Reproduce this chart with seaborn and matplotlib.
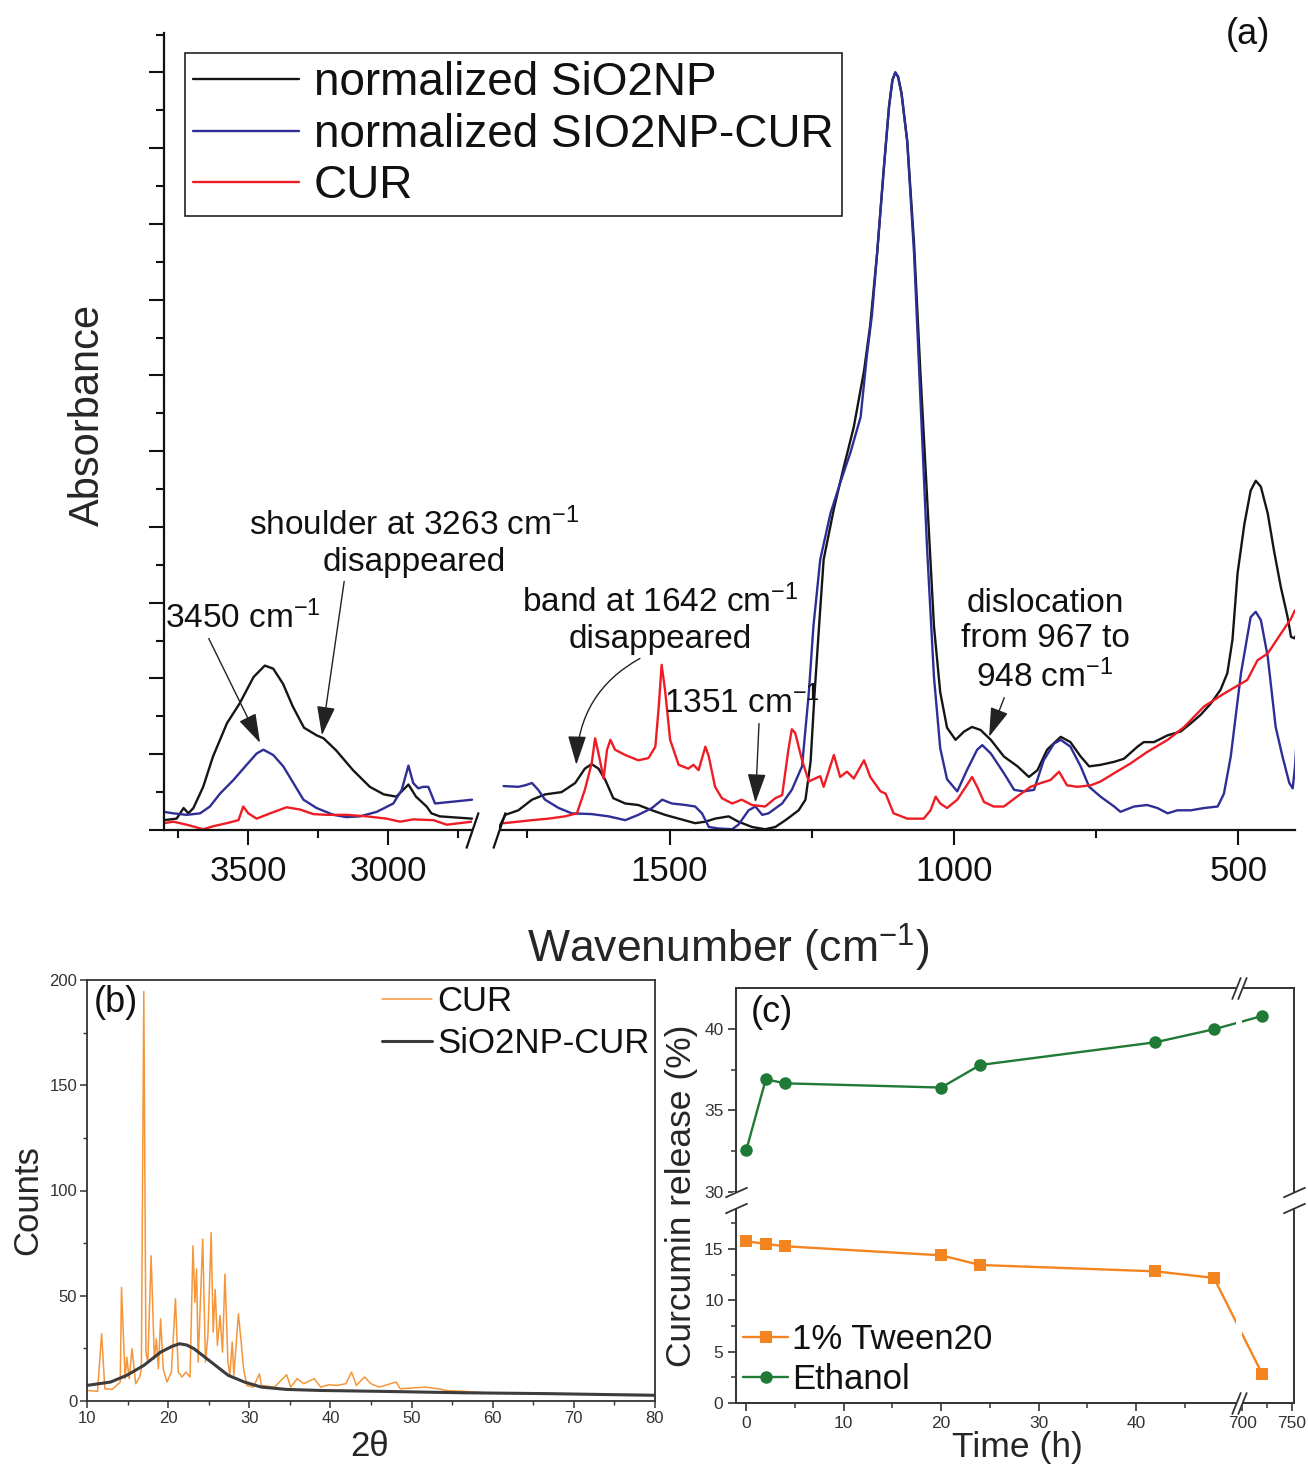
import numpy as np
import pandas as pd
import matplotlib
matplotlib.use("Agg")
import matplotlib.pyplot as plt
import seaborn as sns
from matplotlib.path import Path
from matplotlib.patches import ArrowStyle
from matplotlib.ticker import FixedLocator, NullFormatter, MultipleLocator

# ------------------------------------------------------------------ data (a) FTIR
sio2_wn_hi = [3800, 3755, 3730, 3713, 3695, 3660, 3625, 3575, 3530, 3480, 3440, 3410, 3375, 3340,
              3300, 3255, 3230, 3185, 3125, 3065, 3015, 2970, 2927, 2900, 2862, 2845, 2815, 2700]
sio2_abs_hi = [0.013, 0.015, 0.029, 0.022, 0.029, 0.057, 0.097, 0.141, 0.167, 0.202, 0.217, 0.213,
               0.193, 0.163, 0.135, 0.125, 0.121, 0.105, 0.079, 0.057, 0.047, 0.044, 0.060, 0.044,
               0.031, 0.022, 0.018, 0.015]
sio2_wn_lo = [1800, 1789, 1766, 1742, 1719, 1690, 1666, 1649, 1637, 1625, 1613, 1599, 1578, 1555,
              1531, 1508, 1484, 1455, 1437, 1420, 1396, 1379, 1355, 1332, 1314, 1296, 1273, 1261,
              1252, 1245, 1237, 1229, 1211, 1194, 1176, 1158, 1147, 1135, 1123, 1114, 1108, 1103,
              1098, 1092, 1082, 1070, 1059, 1047, 1035, 1024, 1012, 997, 982, 968, 953, 935, 912,
              888, 868, 853, 836, 812, 795, 777, 762, 742, 718, 701, 677, 666, 648, 624, 601, 583,
              566, 548, 531, 519, 510, 501, 489, 478, 469, 460, 448, 437, 425, 413, 407, 401, 397]
sio2_abs_lo = [0.003, 0.020, 0.026, 0.040, 0.047, 0.050, 0.062, 0.081, 0.087, 0.081, 0.066, 0.042,
               0.035, 0.033, 0.026, 0.020, 0.015, 0.009, 0.011, 0.015, 0.018, 0.011, 0.004, 0.001,
               0.004, 0.013, 0.026, 0.040, 0.09, 0.18, 0.27, 0.357, 0.424, 0.478, 0.532, 0.606,
               0.667, 0.761, 0.875, 0.955, 0.990, 1.000, 0.994, 0.972, 0.909, 0.774, 0.606, 0.438,
               0.269, 0.182, 0.135, 0.119, 0.130, 0.136, 0.132, 0.119, 0.097, 0.084, 0.070, 0.079,
               0.106, 0.123, 0.116, 0.097, 0.084, 0.086, 0.090, 0.094, 0.110, 0.116, 0.116, 0.125,
               0.130, 0.141, 0.152, 0.167, 0.185, 0.207, 0.251, 0.339, 0.404, 0.448, 0.461, 0.453,
               0.418, 0.369, 0.321, 0.281, 0.255, 0.253, 0.259]

sio2cur_wn_hi = [3800, 3767, 3719, 3671, 3636, 3600, 3552, 3505, 3469, 3445, 3410, 3374, 3338, 3302,
                 3255, 3195, 3148, 3100, 3040, 2981, 2951, 2927, 2910, 2892, 2874, 2856, 2844, 2832,
                 2779, 2700]
sio2cur_abs_hi = [0.024, 0.022, 0.020, 0.022, 0.031, 0.048, 0.066, 0.086, 0.101, 0.106, 0.099,
                  0.084, 0.062, 0.040, 0.029, 0.020, 0.017, 0.018, 0.024, 0.035, 0.053, 0.085,
                  0.062, 0.055, 0.057, 0.057, 0.046, 0.035, 0.037, 0.040]
sio2cur_wn_lo = [1792, 1766, 1754, 1742, 1731, 1719, 1695, 1672, 1637, 1607, 1578, 1555, 1531, 1513,
                 1496, 1472, 1455, 1443, 1431, 1414, 1390, 1379, 1361, 1349, 1337, 1326, 1302, 1285,
                 1267, 1255, 1247, 1235, 1217, 1200, 1182, 1164, 1153, 1144, 1135, 1123, 1114, 1108,
                 1103, 1098, 1092, 1082, 1070, 1059, 1047, 1035, 1024, 1012, 994, 977, 959, 950, 935,
                 912, 894, 877, 859, 842, 824, 812, 795, 777, 762, 742, 718, 707, 683, 660, 642, 624,
                 607, 583, 560, 536, 525, 513, 495, 478, 469, 460, 448, 434, 422, 410, 404, 400, 397]
sio2cur_abs_lo = [0.058, 0.057, 0.059, 0.062, 0.053, 0.040, 0.029, 0.022, 0.021, 0.018, 0.013,
                  0.020, 0.029, 0.040, 0.035, 0.033, 0.031, 0.022, 0.004, 0.002, 0.001, 0.007,
                  0.026, 0.031, 0.020, 0.022, 0.035, 0.053, 0.084, 0.182, 0.269, 0.357, 0.418,
                  0.458, 0.498, 0.545, 0.626, 0.680, 0.761, 0.875, 0.955, 0.990, 1.000, 0.994,
                  0.972, 0.909, 0.761, 0.572, 0.370, 0.202, 0.108, 0.067, 0.051, 0.079, 0.106,
                  0.112, 0.101, 0.075, 0.053, 0.051, 0.053, 0.092, 0.114, 0.119, 0.110, 0.084,
                  0.057, 0.044, 0.031, 0.024, 0.031, 0.033, 0.029, 0.022, 0.026, 0.026, 0.029,
                  0.031, 0.048, 0.097, 0.207, 0.281, 0.288, 0.277, 0.229, 0.136, 0.097, 0.062,
                  0.055, 0.084, 0.119]

cur_wn_hi = [3800, 3767, 3719, 3660, 3624, 3576, 3534, 3517, 3499, 3469, 3421, 3362, 3314, 3267,
             3219, 3148, 3076, 3005, 2957, 2910, 2838, 2790, 2700]
cur_abs_hi = [0.009, 0.011, 0.007, 0.001, 0.005, 0.009, 0.013, 0.031, 0.022, 0.015, 0.022, 0.030,
              0.027, 0.021, 0.020, 0.020, 0.018, 0.015, 0.011, 0.014, 0.013, 0.007, 0.011]
cur_wn_lo = [1792, 1766, 1742, 1713, 1684, 1663, 1649, 1637, 1631, 1625, 1616, 1610, 1604, 1596,
             1578, 1555, 1537, 1525, 1519, 1514, 1508, 1499, 1484, 1467, 1458, 1449, 1437, 1431,
             1420, 1408, 1390, 1373, 1355, 1332, 1314, 1302, 1291, 1285, 1279, 1267, 1255, 1247,
             1235, 1229, 1211, 1200, 1188, 1176, 1158, 1147, 1129, 1120, 1106, 1082, 1053, 1041,
             1032, 1024, 1012, 994, 979, 968, 959, 947, 930, 912, 889, 865, 847, 830, 815, 801,
             783, 759, 742, 718, 689, 660, 624, 595, 560, 525, 484, 466, 448, 425, 407, 400]
cur_abs_lo = [0.009, 0.011, 0.013, 0.015, 0.018, 0.022, 0.053, 0.088, 0.121, 0.101, 0.068, 0.106,
              0.119, 0.106, 0.099, 0.092, 0.095, 0.110, 0.163, 0.218, 0.185, 0.119, 0.086, 0.081,
              0.086, 0.079, 0.110, 0.097, 0.057, 0.042, 0.035, 0.040, 0.033, 0.031, 0.042, 0.046,
              0.106, 0.133, 0.128, 0.092, 0.064, 0.067, 0.071, 0.057, 0.099, 0.070, 0.077, 0.068,
              0.092, 0.070, 0.051, 0.048, 0.022, 0.015, 0.015, 0.026, 0.044, 0.035, 0.029, 0.040,
              0.057, 0.070, 0.057, 0.037, 0.031, 0.031, 0.044, 0.057, 0.062, 0.066, 0.077, 0.059,
              0.057, 0.059, 0.064, 0.075, 0.088, 0.103, 0.119, 0.136, 0.163, 0.180, 0.198, 0.224,
              0.233, 0.259, 0.279, 0.290]

ftir_series = ["normalized SiO2NP", "normalized SIO2NP-CUR", "CUR"]
ftir_colors = ["#151515", "#2E2E96", "#EE1C25"]
ftir_major_ticks = [3500, 3000, 1500, 1000, 500]
ftir_minor_ticks = [3750, 3250, 2750, 1750, 1250, 750]

# ------------------------------------------------------------------ data (b) XRD
cur_2theta = [10, 11.3, 11.8, 12.2, 13.1, 14.1, 14.25, 14.7, 14.9, 15.2, 15.55, 16.0, 16.5, 16.7,
              17.0, 17.26, 17.5, 17.9, 18.3, 18.55, 18.8, 19.07, 19.4, 19.85, 20.4, 20.9, 21.25,
              21.7, 22.2, 22.7, 23.06, 23.3, 23.5, 23.7, 24.26, 24.6, 24.9, 25.3, 25.55, 25.8,
              26.07, 26.4, 26.7, 27.0, 27.37, 27.6, 27.9, 28.1, 28.66, 29.0, 29.3, 29.7, 30.5,
              31.25, 31.5, 33.1, 34.6, 35.1, 35.9, 36.7, 38.0, 38.8, 39.8, 40.8, 41.9, 42.6, 43.2,
              44.2, 45.0, 46.0, 48.1, 48.6, 50.2, 51.7, 53.3, 54.3, 56.4, 59.0, 64.2, 71.9, 80.0]
cur_counts = [5.0, 4.6, 31.9, 5.8, 5.5, 9.0, 54.0, 10.6, 20.8, 10.6, 24.8, 8.2, 11.4, 15.3, 194.5,
              23.2, 18.5, 69.0, 20.0, 29.5, 15.3, 39.0, 15.3, 9.0, 13.7, 48.5, 13.7, 11.4, 13.7,
              11.4, 73.7, 46.9, 62.7, 18.5, 76.9, 18.5, 31.0, 80.0, 32.7, 53.0, 26.4, 40.6, 23.2,
              60.3, 18.5, 12.2, 28.0, 12.2, 41.4, 28.0, 15.3, 7.4, 6.6, 12.9, 7.4, 6.6, 12.5, 6.6,
              10.6, 8.2, 10.6, 6.6, 7.7, 7.4, 8.2, 13.7, 7.4, 11.4, 8.2, 6.6, 9.0, 5.8, 6.2, 6.6,
              5.8, 5.0, 4.6, 3.9, 3.6, 3.2, 3.0]
sio2cur_2theta = [10, 12.9, 14.9, 17.0, 19.07, 20.5, 21.4, 22.3, 23.2, 25.3, 27.4, 29.4, 31.5,
                  34.6, 38.8, 46.0, 56.4, 66.8, 80.0]
sio2cur_counts = [7.4, 9.0, 12.2, 16.9, 23.2, 26.0, 27.2, 26.6, 24.8, 18.5, 12.2, 9.0, 6.6, 5.5,
                  5.0, 4.6, 3.9, 3.5, 2.7]

# ------------------------------------------------------------------ data (c) release
time_h = [0, 2, 4, 20, 24, 42, 48, 720]
tween_release = [15.75, 15.49, 15.26, 14.38, 13.44, 12.82, 12.18, 2.82]
ethanol_release = [32.57, 36.92, 36.67, 36.41, 37.80, 39.20, 40.00, 40.82]
release_xticks = [0, 10, 20, 30, 40, 700, 750]
release_xminor = [5, 15, 25, 35, 45, 725]
release_yticks = [0, 5, 10, 15, 30, 35, 40]
release_yminor = [2.5, 7.5, 12.5, 17.5, 32.5, 37.5]

# ------------------------------------------------------------------ style
sns.set_style("ticks")
plt.rcParams["font.family"] = ["Liberation Sans", "DejaVu Sans"]
plt.rcParams["mathtext.fontset"] = "custom"
plt.rcParams["mathtext.rm"] = "Liberation Sans"
plt.rcParams["mathtext.it"] = "Liberation Sans:italic"
plt.rcParams["mathtext.bf"] = "Liberation Sans:bold"
plt.rcParams["text.color"] = "#111111"

W, H = 1308, 1469
fig = plt.figure(figsize=(W / 100, H / 100), dpi=100)
fig.patch.set_facecolor("white")


def broken_scale(knots_in, knots_out):
    ki = np.asarray(knots_in, float)
    ko = np.asarray(knots_out, float)

    def _map(v, a, b):
        v = np.asarray(v, dtype=float)
        out = np.interp(v, a, b)
        s0 = (b[1] - b[0]) / (a[1] - a[0])
        s1 = (b[-1] - b[-2]) / (a[-1] - a[-2])
        out = np.where(v < a[0], b[0] + (v - a[0]) * s0, out)
        out = np.where(v > a[-1], b[-1] + (v - a[-1]) * s1, out)
        return out

    return (lambda v: _map(v, ki, ko)), (lambda v: _map(v, ko, ki))


def slash(dx, dy):
    return Path([(-dx, -dy), (dx, dy)], [Path.MOVETO, Path.LINETO])


# ================================================================== panel (a)
axa = fig.add_axes([164 / W, 1 - 830 / H, (1295 - 164) / W, (830 - 33) / H])
axa.set_xscale("function", functions=broken_scale([400, 1800, 2700, 3800], [0, 796, 823, 1131]))

frames = []
for name, parts in zip(ftir_series,
                       [[(sio2_wn_hi, sio2_abs_hi), (sio2_wn_lo, sio2_abs_lo)],
                        [(sio2cur_wn_hi, sio2cur_abs_hi), (sio2cur_wn_lo, sio2cur_abs_lo)],
                        [(cur_wn_hi, cur_abs_hi), (cur_wn_lo, cur_abs_lo)]]):
    for k, (w, a) in enumerate(parts):
        frames.append(pd.DataFrame({"wn": w, "abs": a, "series": name, "seg": f"{name}-{k}"}))
df_ftir = pd.concat(frames, ignore_index=True)

sns.lineplot(data=df_ftir, x="wn", y="abs", hue="series", hue_order=ftir_series,
             palette=dict(zip(ftir_series, ftir_colors)), units="seg", estimator=None,
             sort=False, lw=1.7, ax=axa)
axa.set_xlim(3800, 400)
axa.set_ylim(0, 1.052)
for s in ["top", "right"]:
    axa.spines[s].set_visible(False)
for s in ["left", "bottom"]:
    axa.spines[s].set_linewidth(1.6)
    axa.spines[s].set_color("#111111")
axa.xaxis.set_major_locator(FixedLocator(ftir_major_ticks))
axa.xaxis.set_minor_locator(FixedLocator(ftir_minor_ticks))
axa.yaxis.set_major_locator(MultipleLocator(0.1))
axa.yaxis.set_minor_locator(MultipleLocator(0.05))
axa.yaxis.set_major_formatter(NullFormatter())
axa.tick_params(axis="both", which="major", direction="out", length=11, width=1.5,
                labelsize=25, colors="#111111", pad=7)
axa.tick_params(axis="both", which="minor", direction="out", length=6, width=1.5, colors="#111111")
axa.set_xlabel("Wavenumber (cm$^{-1}$)", fontsize=32)
axa.xaxis.set_label_coords(0.499, -0.115)
axa.set_ylabel("Absorbance", fontsize=30)
axa.yaxis.set_label_coords(-0.05, 0.521)

# axis break on the wavenumber axis
axa.axvspan(2700, 1800, ymin=-0.03, ymax=0.012, color="white", zorder=5, clip_on=False, lw=0)
axa.plot([2700, 1800], [0, 0], transform=axa.get_xaxis_transform(), ls="none",
         marker=slash(0.34, 1.0), ms=26, mew=1.6, mec="#111111", mfc="none",
         clip_on=False, zorder=6)

h, l = axa.get_legend_handles_labels()
leg = axa.legend(h, l, loc="upper left", bbox_to_anchor=(185 / W, 1 - 53 / H),
                 bbox_transform=fig.transFigure, fontsize=33, frameon=True, fancybox=False,
                 edgecolor="#222222", framealpha=1, borderaxespad=0, borderpad=0.18,
                 handlelength=2.3, handletextpad=0.33, labelspacing=0.16)
leg.get_frame().set_linewidth(1.2)
for ln in leg.get_lines():
    ln.set_linewidth(1.7)

arrow_style = ArrowStyle("-|>", head_length=0.7, head_width=0.22)
annotations = [
    ("3450 cm$^{-1}$", (3457, 0.115), (243, 618), (0.27, 0.0), 0.0),
    ("shoulder at 3263 cm$^{-1}$\ndisappeared", (3236, 0.125), (414, 543), (0.29, 0.0), 0.0),
    ("band at 1642 cm$^{-1}$\ndisappeared", (1664, 0.086), (660, 620), (0.45, 0.0), 0.3),
    ("1351 cm$^{-1}$", (1349, 0.036), (742, 703), (0.61, 0.0), 0.0),
    ("dislocation\nfrom 967 to\n948 cm$^{-1}$", (938, 0.123), (1045, 641), (0.32, 0.22), 0.0),
]
for txt, tip, pos, rel, rad in annotations:
    axa.annotate(txt, xy=tip, xycoords="data",
                 xytext=(pos[0] / W, 1 - pos[1] / H), textcoords="figure fraction",
                 ha="center", va="center", fontsize=24, linespacing=1.2,
                 arrowprops=dict(arrowstyle=arrow_style, color="#222222", lw=1.0,
                                 mutation_scale=26, shrinkA=0, shrinkB=0, relpos=rel,
                                 connectionstyle=f"arc3,rad={rad}"),
                 zorder=7)
fig.text(1248 / W, 1 - 35 / H, "(a)", ha="center", va="center", fontsize=26)

# ================================================================== panel (b)
axb = fig.add_axes([87 / W, 1 - 1401 / H, (655 - 87) / W, (1401 - 980) / H])
sns.lineplot(x=cur_2theta, y=cur_counts, color="#F5963A", lw=1.1, label="CUR", ax=axb, sort=False)
sns.lineplot(x=sio2cur_2theta, y=sio2cur_counts, color="#3C3C3C", lw=2.2, label="SiO2NP-CUR",
             ax=axb, sort=False)
axb.set_xlim(10, 80)
axb.set_ylim(0, 200)
axb.xaxis.set_major_locator(MultipleLocator(10))
axb.xaxis.set_minor_locator(MultipleLocator(5))
axb.yaxis.set_major_locator(MultipleLocator(50))
axb.yaxis.set_minor_locator(MultipleLocator(25))
for s in axb.spines.values():
    s.set_color("#333333")
    s.set_linewidth(1.3)
axb.tick_params(which="major", direction="out", length=5, width=1.1, labelsize=12,
                colors="#333333", pad=2, top=False, right=False)
axb.tick_params(which="minor", direction="out", length=3, width=1.0, colors="#333333",
                top=False, right=False)
axb.set_ylabel("Counts", fontsize=25)
axb.yaxis.set_label_coords(-0.075, 0.477)
axb.set_xlabel("2θ", fontsize=25)
axb.xaxis.set_label_coords(0.498, -0.07)
axb.legend(loc="upper right", fontsize=25, frameon=False, borderaxespad=0.05, borderpad=0.1,
           handlelength=1.45, handletextpad=0.15, labelspacing=0.25)
fig.text(116 / W, 1 - 1003 / H, "(b)", ha="center", va="center", fontsize=26)

# ================================================================== panel (c)
axc = fig.add_axes([736 / W, 1 - 1403 / H, (1294 - 736) / W, (1403 - 988) / H])
axc.set_xscale("function", functions=broken_scale([-1.06, 50.3, 700, 750], [0, 500.5, 506.6, 556.2]))
axc.set_yscale("function", functions=broken_scale([0, 19, 30, 42.5], [0, 195.1, 211.3, 414.3]))
sns.lineplot(x=time_h, y=tween_release, color="#F4841F", lw=1.7, marker="s", ms=8, mew=0,
             label="1% Tween20", ax=axc, sort=False)
sns.lineplot(x=time_h, y=ethanol_release, color="#1F7A35", lw=1.7, marker="o", ms=9, mew=0,
             label="Ethanol", ax=axc, sort=False)
axc.set_xlim(-1.06, 752)
axc.set_ylim(0, 42.54)
axc.xaxis.set_major_locator(FixedLocator(release_xticks))
axc.xaxis.set_minor_locator(FixedLocator(release_xminor))
axc.yaxis.set_major_locator(FixedLocator(release_yticks))
axc.yaxis.set_minor_locator(FixedLocator(release_yminor))
for s in axc.spines.values():
    s.set_color("#333333")
    s.set_linewidth(1.4)
axc.tick_params(which="major", direction="out", length=6, width=1.2, labelsize=12.5,
                colors="#333333", pad=3, top=False, right=False)
axc.tick_params(which="minor", direction="out", length=3.5, width=1.1, colors="#333333",
                top=False, right=False)
axc.set_ylabel("Curcumin release (%)", fontsize=25.5)
axc.yaxis.set_label_coords(-0.068, 0.50)
axc.set_xlabel("Time (h)", fontsize=25.5)
axc.xaxis.set_label_coords(0.504, -0.068)

# axis breaks
axc.axvspan(50.3, 700, ymin=-0.012, ymax=1.012, color="white", zorder=5, clip_on=False, lw=0)
axc.axhspan(19, 30, xmin=-0.006, xmax=1.006, color="white", zorder=5, clip_on=False, lw=0)
for yy in (0, 1):
    axc.plot([50.3, 700], [yy, yy], transform=axc.get_xaxis_transform(), ls="none",
             marker=slash(0.4, 1.0), ms=16, mew=1.3, mec="#333333", mfc="none",
             clip_on=False, zorder=6)
for xx in (0, 1):
    axc.plot([xx, xx], [19, 30], transform=axc.get_yaxis_transform(), ls="none",
             marker=slash(1.0, 0.45), ms=16, mew=1.3, mec="#333333", mfc="none",
             clip_on=False, zorder=6)

axc.legend(loc="lower left", fontsize=25, frameon=False, borderaxespad=0.1, borderpad=0.1,
           handlelength=1.3, handletextpad=0.12, labelspacing=0.2)
fig.text(772 / W, 1 - 1012 / H, "(c)", ha="center", va="center", fontsize=26)

fig.savefig("out.png", dpi=100, facecolor="white")
